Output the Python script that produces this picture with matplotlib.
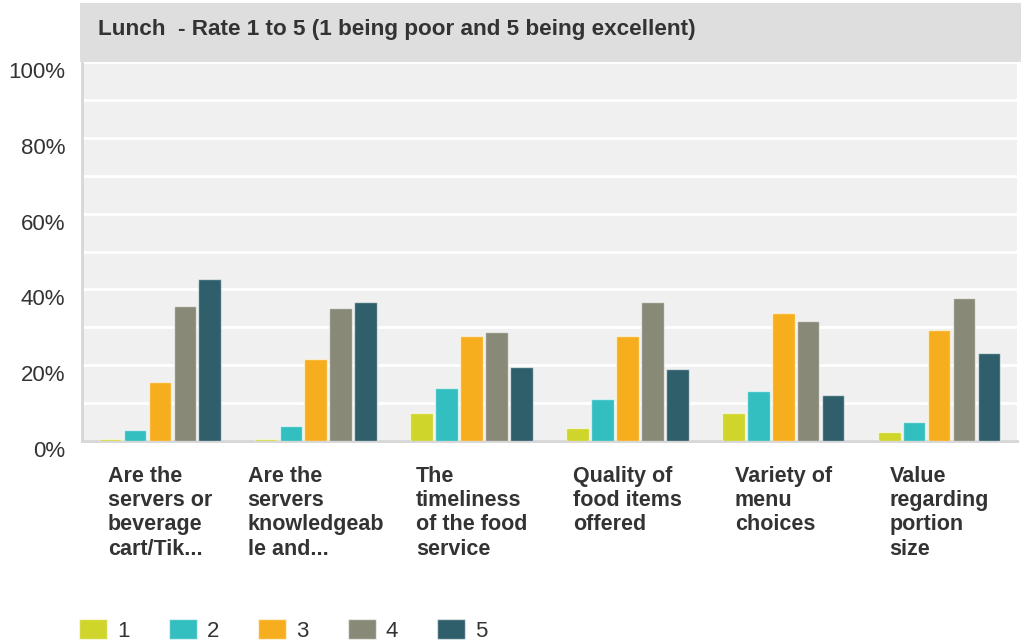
import matplotlib
matplotlib.use("Agg")
import matplotlib.pyplot as plt
import matplotlib.patches as mpatches
import numpy as np

plt.rcParams["font.family"] = ["Liberation Sans", "DejaVu Sans"]

title = "Lunch  - Rate 1 to 5 (1 being poor and 5 being excellent)"
categories = [
    "Are the\nservers or\nbeverage\ncart/Tik...",
    "Are the\nservers\nknowledgeab\nle and...",
    "The\ntimeliness\nof the food\nservice",
    "Quality of\nfood items\noffered",
    "Variety of\nmenu\nchoices",
    "Value\nregarding\nportion\nsize",
]
ratings = ["1", "2", "3", "4", "5"]
# percent of responses per rating, one list per category
rate_1 = [0.5, 0.5, 7.5, 3.5, 7.5, 2.5]
rate_2 = [3.0, 4.0, 14.0, 11.1, 13.1, 5.0]
rate_3 = [15.5, 21.7, 27.7, 27.7, 33.7, 29.2]
rate_4 = [35.7, 35.1, 28.7, 36.6, 31.7, 37.8]
rate_5 = [42.7, 36.6, 19.6, 19.1, 12.1, 23.1]
colors = ["#cfd52a", "#33bec0", "#f6ae1f", "#888977", "#2e5f6b"]

series = [rate_1, rate_2, rate_3, rate_4, rate_5]
W, H = 1021, 644
fig = plt.figure(figsize=(W / 100, H / 100), dpi=100)
fig.patch.set_facecolor("white")

# title band
fig.patches.append(mpatches.Rectangle((80 / W, 1 - 62 / H), 1 - 80 / W, 59 / H,
                                      transform=fig.transFigure, facecolor="#dedede",
                                      edgecolor="none", zorder=0))
fig.text(98 / W, 1 - 30 / H, title, fontsize=16.2, fontweight="bold",
         color="#333333", va="center", ha="left")

ax = fig.add_axes([82 / W, 1 - 441 / H, 935 / W, 379 / H])
ax.set_facecolor("#f0f0f0")

x = np.arange(len(categories))
bw = 0.145
step = 0.16
for i, (vals, c, lab) in enumerate(zip(series, colors, ratings)):
    ax.bar(x + (i - 2) * step, vals, width=bw, color=c, label=lab,
           edgecolor=(1, 1, 1, 0.6), linewidth=1, zorder=3)

ax.set_xlim(-0.5, len(categories) - 0.5)
ax.set_ylim(0, 100)
ax.set_yticks(np.arange(0, 101, 20))
ax.set_yticklabels([f"{v}%" for v in range(0, 101, 20)], fontsize=16, color="#333333",
                   va="top")
ax.set_yticks(np.arange(10, 100, 20), minor=True)
ax.yaxis.grid(True, which="both", color="white", linewidth=2, zorder=1)
ax.tick_params(axis="y", which="both", length=0, pad=12)

ax.set_xticks(x)
ax.set_xticklabels(categories, fontsize=15.5, fontweight="bold", color="#333333",
                   ma="left", linespacing=1.2)
ax.tick_params(axis="x", length=0, pad=18)

for s in ["top", "right"]:
    ax.spines[s].set_visible(False)
for s in ["left", "bottom"]:
    ax.spines[s].set_color("#d6d6d6")
    ax.spines[s].set_linewidth(2)

fig.legend(loc="lower left", bbox_to_anchor=(79 / W, 2 / H), ncol=5, frameon=False,
           fontsize=16, handlelength=1.27, handleheight=1.0, handletextpad=0.45,
           columnspacing=1.75, labelcolor="#333333", borderpad=0, borderaxespad=0)

fig.savefig("out.png", dpi=100)
